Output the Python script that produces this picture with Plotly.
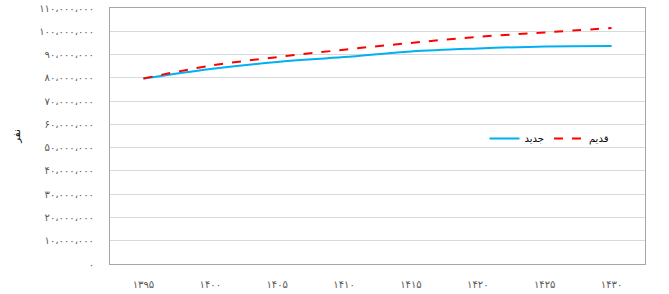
import plotly.graph_objects as go

years = ["۱۳۹۵", "۱۴۰۰", "۱۴۰۵", "۱۴۱۰", "۱۴۱۵", "۱۴۲۰", "۱۴۲۵", "۱۴۳۰"]
new_vals = [79.7e6, 83.8e6, 86.8e6, 88.9e6, 91.3e6, 92.6e6, 93.5e6, 93.7e6]
old_vals = [79.7e6, 85.2e6, 88.9e6, 92.1e6, 95.0e6, 97.6e6, 99.5e6, 101.4e6]
new_name = "جدید"
old_name = "قدیم"
y_title = "نفر"

fa_digits = str.maketrans("0123456789", "۰۱۲۳۴۵۶۷۸۹")
y_ticks = [i * 10_000_000 for i in range(12)]
y_text = []
for v in y_ticks:
    s = f"{v:,}".replace(",", "،").translate(fa_digits)
    y_text.append(s)

fig = go.Figure()
fig.add_trace(go.Scatter(x=years, y=new_vals, name=new_name, mode="lines",
                         line=dict(color="#00b0f0", width=2, shape="spline")))
fig.add_trace(go.Scatter(x=years, y=old_vals, name=old_name, mode="lines",
                         line=dict(color="#ff0000", width=2, dash="dash", shape="spline")))

font = dict(family="DejaVu Sans", size=10, color="#595959")
fig.update_layout(
    width=669, height=294,
    margin=dict(l=110, r=24, t=8, b=30, autoexpand=False),
    paper_bgcolor="white", plot_bgcolor="white",
    font=font,
    showlegend=True,
    legend=dict(orientation="h", x=0.70, y=0.49, xanchor="left", yanchor="middle",
                font=dict(family="DejaVu Sans", size=10, color="#000000"),
                bgcolor="rgba(0,0,0,0)", traceorder="normal", itemwidth=30),
    xaxis=dict(type="category", range=[-0.5, 7.5], showgrid=False, showline=True, mirror=True,
               linecolor="#a6a6a6", linewidth=1, ticks="", ticklabelstandoff=11,
               tickfont=font, zeroline=False, automargin=False),
    yaxis=dict(range=[0, 110e6], tickvals=y_ticks, ticktext=y_text,
               showgrid=True, gridcolor="#d9d9d9", gridwidth=1,
               showline=True, mirror=True, linecolor="#a6a6a6", linewidth=1,
               ticks="", ticklabelstandoff=13, tickfont=font, zeroline=False,
               automargin=False,
               title=dict(text=y_title, font=dict(family="DejaVu Sans", size=10, color="#000000"),
                          standoff=16)),
)
fig.write_html("out.html")
